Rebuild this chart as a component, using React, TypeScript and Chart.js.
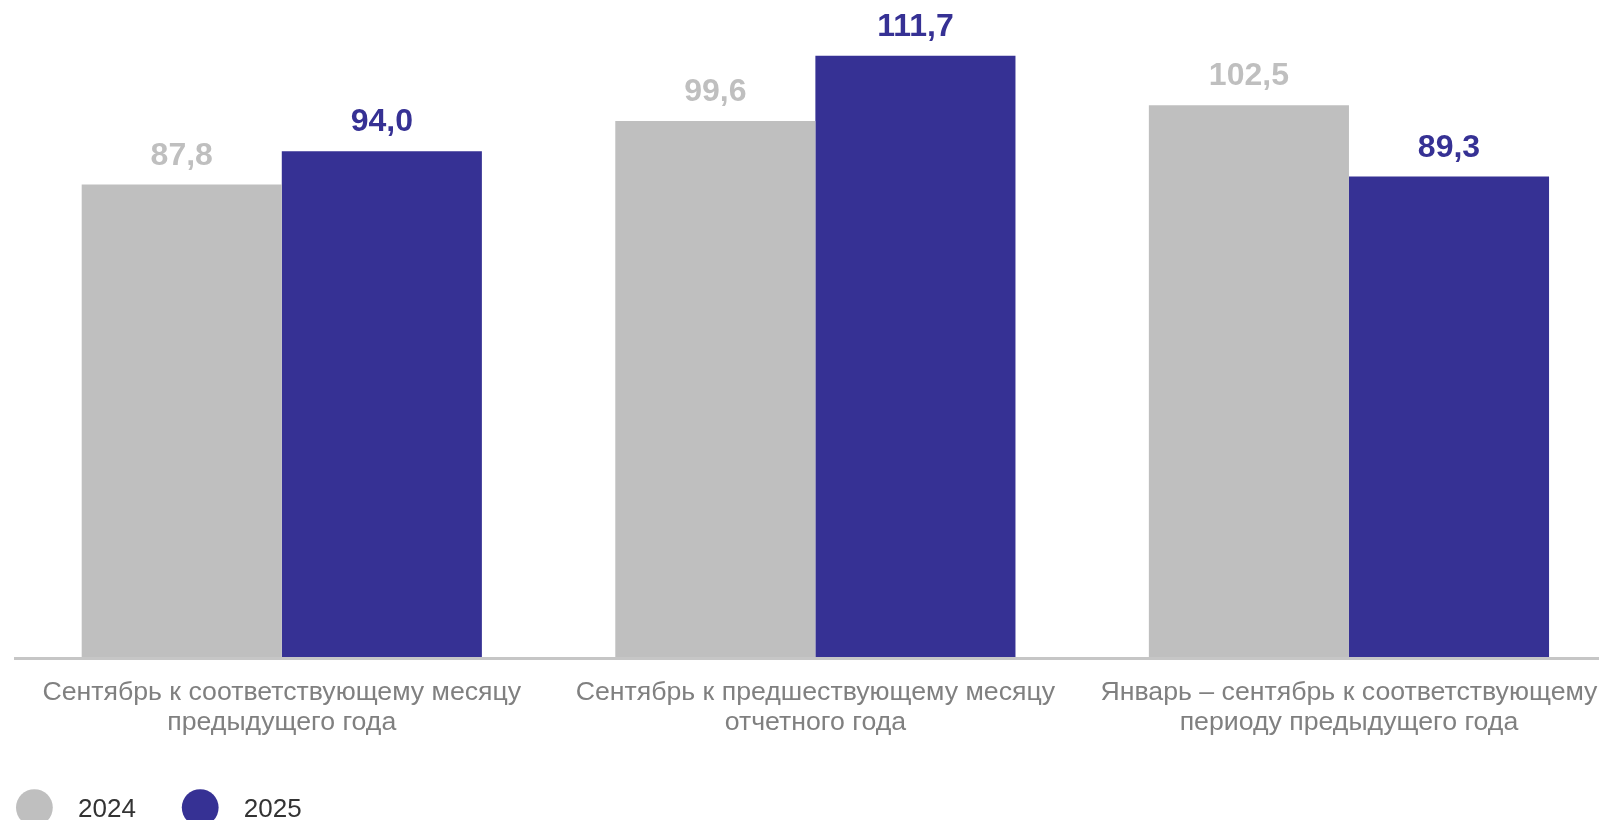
import React, { useEffect, useRef } from 'react';
import { Chart, registerables } from 'chart.js';

Chart.register(...registerables);

const categories: string[][] = [
  ['Сентябрь к соответствующему месяцу', 'предыдущего года'],
  ['Сентябрь к предшествующему месяцу', 'отчетного года'],
  ['Январь – сентябрь к соответствующему', 'периоду предыдущего года'],
];
const seriesNames = ['2024', '2025'];
const values2024 = [87.8, 99.6, 102.5];
const values2025 = [94.0, 111.7, 89.3];
const seriesColors = ['#bfbfbf', '#363194'];

const FONT = '"Liberation Sans", Arial, sans-serif';

const fmt = (v: number) => v.toFixed(1).replace('.', ',');

const dataLabelPlugin = {
  id: 'dataLabels',
  afterDatasetsDraw(chart: any) {
    const ctx = chart.ctx;
    ctx.save();
    ctx.font = `bold 32px ${FONT}`;
    ctx.textAlign = 'center';
    ctx.textBaseline = 'alphabetic';
    chart.data.datasets.forEach((ds: any, di: number) => {
      const meta = chart.getDatasetMeta(di);
      ctx.fillStyle = ds.backgroundColor;
      meta.data.forEach((bar: any, i: number) => {
        ctx.fillText(fmt(ds.data[i]), bar.x, bar.y - 20);
      });
    });
    ctx.restore();
  },
};

const legendPlugin = {
  id: 'customLegend',
  afterDraw(chart: any) {
    const ctx = chart.ctx;
    ctx.save();
    ctx.font = `26px ${FONT}`;
    ctx.textAlign = 'left';
    ctx.textBaseline = 'alphabetic';
    chart.data.datasets.forEach((ds: any, i: number) => {
      const cx = 34.4 + i * 165.8;
      const cy = 807.6;
      ctx.beginPath();
      ctx.fillStyle = ds.backgroundColor;
      ctx.arc(cx, cy, 18.4, 0, Math.PI * 2);
      ctx.fill();
      ctx.fillStyle = '#333333';
      ctx.fillText(ds.label, cx + 43.6, 816.7);
    });
    ctx.restore();
  },
};

export default function App() {
  const canvasRef = useRef<HTMLCanvasElement | null>(null);

  useEffect(() => {
    const prevMargin = document.body.style.margin;
    document.body.style.margin = '0';
    Chart.defaults.font.family = FONT;
    const chart = new Chart(canvasRef.current as HTMLCanvasElement, {
      type: 'bar',
      data: {
        labels: categories,
        datasets: [
          {
            label: seriesNames[0],
            data: values2024,
            backgroundColor: seriesColors[0],
            categoryPercentage: 0.75,
            barPercentage: 1,
          },
          {
            label: seriesNames[1],
            data: values2025,
            backgroundColor: seriesColors[1],
            categoryPercentage: 0.75,
            barPercentage: 1,
          },
        ],
      },
      options: {
        animation: false,
        responsive: false,
        maintainAspectRatio: false,
        layout: { padding: { top: 11, left: 15, right: 14.25, bottom: 62 } },
        plugins: {
          legend: { display: false },
          tooltip: { enabled: false },
        },
        scales: {
          x: {
            grid: { display: false, drawTicks: false },
            border: { display: true, color: '#c6c6c6', width: 3, z: 1 },
            ticks: {
              color: '#808080',
              font: { size: 26.7, family: FONT, lineHeight: '30px' },
              padding: 20,
              maxRotation: 0,
              minRotation: 0,
              autoSkip: false,
            },
          },
          y: {
            display: false,
            min: 0,
            max: 120,
          },
        },
      },
      plugins: [dataLabelPlugin, legendPlugin],
    });
    return () => {
      chart.destroy();
      document.body.style.margin = prevMargin;
    };
  }, []);

  return (
    <div
      style={{
        position: 'absolute',
        left: 0,
        top: 0,
        width: 1599,
        height: 820,
        overflow: 'hidden',
        background: '#ffffff',
      }}
    >
      <canvas ref={canvasRef} width={1630} height={820} style={{ width: 1630, height: 820, display: 'block' }} />
    </div>
  );
}
